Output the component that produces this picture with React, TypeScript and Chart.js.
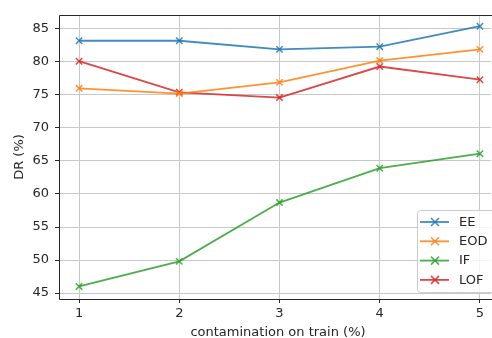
import React, { useEffect, useRef } from "react";
import { Chart, registerables } from "chart.js";

Chart.register(...registerables);

const xValues = [1, 2, 3, 4, 5];
const eeValues = [83.2, 83.2, 81.9, 82.3, 85.4];
const eodValues = [76.0, 75.2, 76.9, 80.2, 81.9];
const ifValues = [46.0, 49.8, 58.7, 63.9, 66.1];
const lofValues = [80.1, 75.4, 74.6, 79.3, 77.3];
const seriesNames = ["EE", "EOD", "IF", "LOF"];
const seriesColors = [
  "rgba(31,119,180,0.85)",
  "rgba(255,127,14,0.85)",
  "rgba(44,160,44,0.85)",
  "rgba(214,39,40,0.85)",
];
const xTicks = [1, 2, 3, 4, 5];
const yTicks = [45, 50, 55, 60, 65, 70, 75, 80, 85];
const xTitle = "contamination on train (%)";
const yTitle = "DR (%)";

const FONT = "'DejaVu Sans', sans-serif";
const FS = 13;
const TEXT = "#262626";

const framePlugin = {
  id: "frame",
  afterDatasetsDraw(chart: any) {
    const { ctx, chartArea } = chart;
    const { left, right, top, bottom } = chartArea;
    ctx.save();
    ctx.strokeStyle = TEXT;
    ctx.lineWidth = 1;
    ctx.beginPath();
    ctx.moveTo(right + 2, top + 0.5);
    ctx.lineTo(left + 0.5, top + 0.5);
    ctx.lineTo(left + 0.5, bottom + 0.5);
    ctx.lineTo(right + 2, bottom + 0.5);
    ctx.stroke();
    ctx.restore();
  },
  afterDraw(chart: any) {
    const { ctx, chartArea } = chart;
    ctx.save();
    // axis titles
    ctx.fillStyle = TEXT;
    ctx.font = `${FS}px ${FONT}`;
    ctx.textAlign = "center";
    ctx.textBaseline = "middle";
    ctx.fillText(xTitle, 278, 333);
    ctx.save();
    ctx.translate(20, (chartArea.top + chartArea.bottom) / 2);
    ctx.rotate(-Math.PI / 2);
    ctx.fillText(yTitle, 0, 0);
    ctx.restore();

    // legend
    const bx = 417;
    const by = 210;
    const bw = 84;
    const bh = 82;
    ctx.fillStyle = "rgba(255,255,255,0.8)";
    ctx.strokeStyle = "#cccccc";
    ctx.lineWidth = 1;
    ctx.beginPath();
    (ctx as any).roundRect(bx + 0.5, by + 0.5, bw, bh, 3);
    ctx.fill();
    ctx.stroke();
    chart.data.datasets.forEach((ds: any, i: number) => {
      const y = by + 12 + i * 19.3;
      ctx.strokeStyle = ds.borderColor;
      ctx.lineWidth = 1.8;
      ctx.beginPath();
      ctx.moveTo(bx + 3, y);
      ctx.lineTo(bx + 32, y);
      ctx.stroke();
      const cx = bx + 18;
      const r = 4;
      ctx.lineWidth = 1.5;
      ctx.beginPath();
      ctx.moveTo(cx - r, y - r);
      ctx.lineTo(cx + r, y + r);
      ctx.moveTo(cx - r, y + r);
      ctx.lineTo(cx + r, y - r);
      ctx.stroke();
      ctx.fillStyle = TEXT;
      ctx.font = `${FS}px ${FONT}`;
      ctx.textBaseline = "middle";
      ctx.textAlign = "left";
      ctx.fillText(ds.label, bx + 42, y + 0.5);
    });
    ctx.restore();
  },
};

export default function App() {
  const ref = useRef<HTMLCanvasElement>(null);
  useEffect(() => {
    if (!ref.current) return;
    const valuesList = [eeValues, eodValues, ifValues, lofValues];
    const chart = new Chart(ref.current, {
      type: "line",
      data: {
        datasets: valuesList.map((vals, i) => ({
          label: seriesNames[i],
          data: xValues.map((x, j) => ({ x, y: vals[j] })),
          borderColor: seriesColors[i],
          backgroundColor: seriesColors[i],
          borderWidth: 1.8,
          pointStyle: "crossRot",
          pointRadius: 4.5,
          pointBorderWidth: 1.5,
          pointBorderColor: seriesColors[i],
          tension: 0,
          fill: false,
        })),
      },
      options: {
        animation: false,
        responsive: true,
        maintainAspectRatio: false,
        layout: { autoPadding: false, padding: { top: 15, right: 1, left: 0, bottom: 0 } },
        plugins: { legend: { display: false }, tooltip: { enabled: false } },
        scales: {
          x: {
            type: "linear",
            min: 0.8,
            max: 5.11,
            afterBuildTicks: (s: any) => {
              s.ticks = xTicks.map((v) => ({ value: v }));
            },
            afterFit: (s: any) => {
              s.height = 39;
              s.paddingRight = 0;
              s.paddingLeft = 0;
            },
            grid: {
              color: "#c8c8c8",
              lineWidth: 1,
              tickColor: TEXT,
              tickLength: 4,
            },
            border: { display: false },
            ticks: {
              color: TEXT,
              font: { family: FONT, size: FS },
              padding: 3,
              maxRotation: 0,
            },
            title: { display: false },
          },
          y: {
            type: "linear",
            min: 44.1,
            max: 87.1,
            afterBuildTicks: (s: any) => {
              s.ticks = yTicks.map((v) => ({ value: v }));
            },
            afterFit: (s: any) => {
              s.width = 59;
              s.paddingTop = 0;
              s.paddingBottom = 0;
            },
            grid: {
              color: "#c8c8c8",
              lineWidth: 1,
              tickColor: TEXT,
              tickLength: 4,
            },
            border: { display: false },
            ticks: {
              color: TEXT,
              font: { family: FONT, size: FS },
              padding: 6,
            },
            title: { display: false },
          },
        },
      },
      plugins: [framePlugin],
    });
    return () => chart.destroy();
  }, []);
  return (
    <div
      style={{
        position: "absolute",
        left: 0,
        top: 0,
        width: 492,
        height: 338,
        background: "#fff",
      }}
    >
      <canvas ref={ref} />
    </div>
  );
}
